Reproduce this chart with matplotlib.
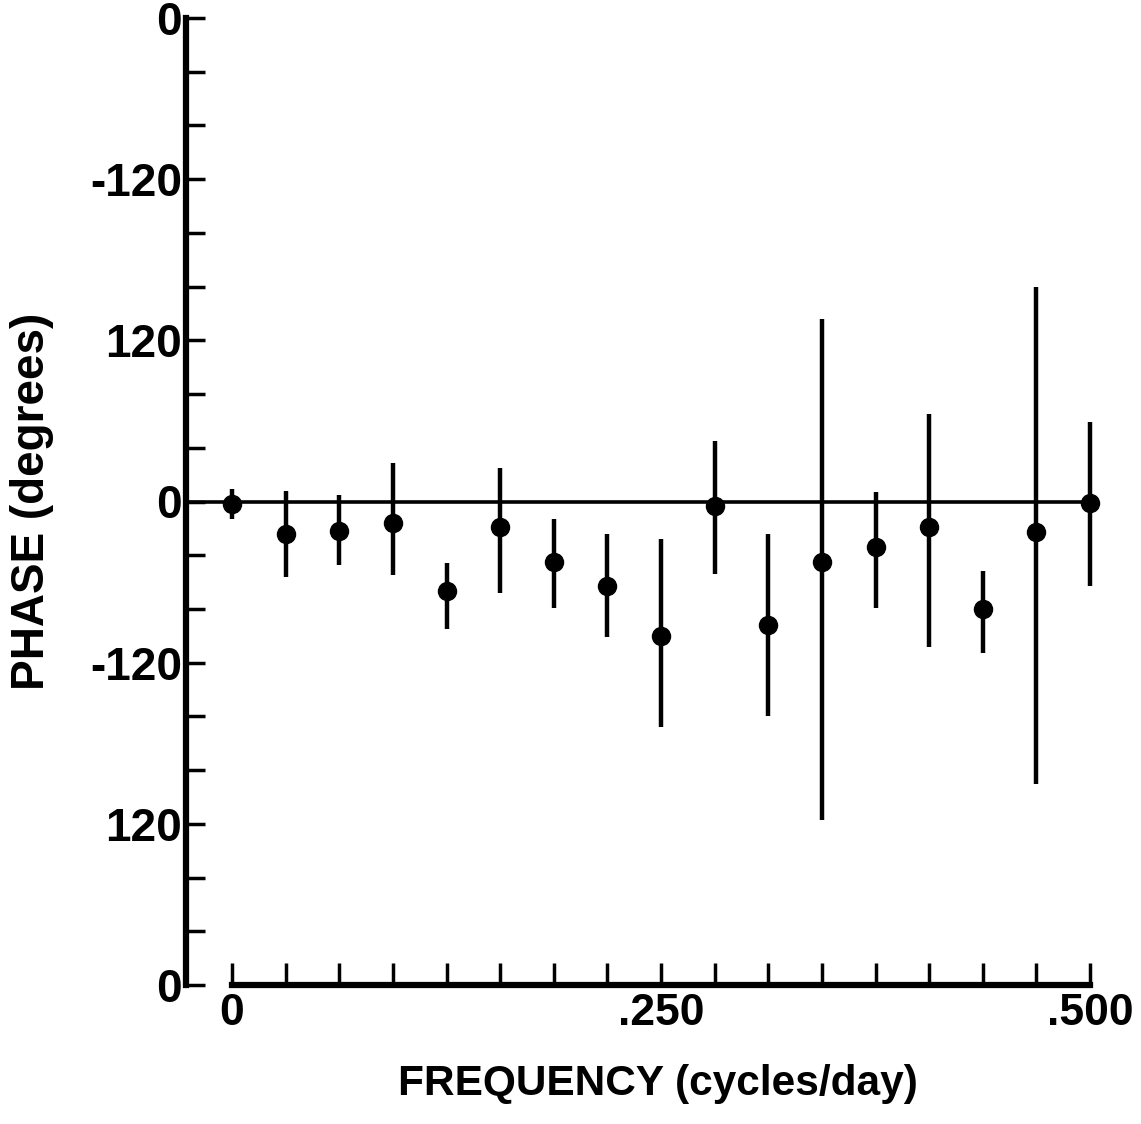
import numpy as np
from matplotlib import pyplot as plt

# frequencies (cycles/day), 17 harmonics from 0 to 0.5
freq = [0, 0.03125, 0.0625, 0.09375, 0.125, 0.15625, 0.1875, 0.21875, 0.25,
        0.28125, 0.3125, 0.34375, 0.375, 0.40625, 0.4375, 0.46875, 0.5]
# phase estimates and error bar ends (degrees)
phase = [-1.5, -24, -22, -16, -67, -19, -45, -63, -100,
         -3, -92, -45, -34, -19, -80, -23, -1]
upper = [9, 8, 4.5, 29, -46, 25, -13, -24, -28,
         45, -24, 136, 7, 65, -52, 160, 59]
lower = [-13, -56, -47, -55, -95, -68, -79, -101, -168,
         -54, -160, -237, -79, -108, -113, -210, -63]

yticks_major = [360, 240, 120, 0, -120, -240, -360]
ytick_text = ["0", "-120", "120", "0", "-120", "120", "0"]
xticks_major = [0, 0.25, 0.5]
xtick_text = ["0", ".250", ".500"]

plt.rcParams['font.family'] = ['Liberation Sans', 'DejaVu Sans']
plt.rcParams['font.weight'] = 'bold'

fig = plt.figure(figsize=(11.41, 11.24), dpi=100)
ax = fig.add_axes([186/1141, 1 - 985/1124, 914/1141, 967/1124])

xl = (-46/1716, 0.5 + 10/1716)
ax.set_xlim(*xl)
ax.set_ylim(-360, 360)

ph = np.array(phase)
err = [ph - np.array(lower), np.array(upper) - ph]
ax.errorbar(freq, phase, yerr=err, fmt='o', color='black', ms=13,
            elinewidth=3.2, capsize=0, clip_on=False, zorder=3)
ax.hlines(0, xl[0], freq[-1], color='black', lw=2.6)

for s in ['top', 'right']:
    ax.spines[s].set_visible(False)
ax.spines['left'].set_linewidth(4.5)
ax.spines['bottom'].set_linewidth(4.5)
ax.spines['bottom'].set_bounds(0, 0.5)

ax.set_yticks(np.arange(-360, 361, 40), minor=True)
ax.set_yticks(yticks_major)
ax.set_yticklabels(ytick_text)
ax.set_xticks(freq, minor=True)
ax.set_xticks(xticks_major)
ax.set_xticklabels(xtick_text)
ax.tick_params(which='both', direction='in', width=2.5, color='black')
ax.tick_params(axis='y', which='both', length=14)
ax.tick_params(axis='x', which='both', length=16)
ax.tick_params(axis='y', which='major', labelsize=33, pad=3)
ax.tick_params(axis='x', which='major', labelsize=32, pad=6)

ax.set_xlabel("FREQUENCY (cycles/day)", fontsize=30.5, fontweight='bold')
ax.xaxis.set_label_coords((658 - 186) / 914, -0.082)
ax.set_ylabel("PHASE (degrees)", fontsize=33, fontweight='bold', labelpad=26)

fig.savefig("out.png", dpi=100)
